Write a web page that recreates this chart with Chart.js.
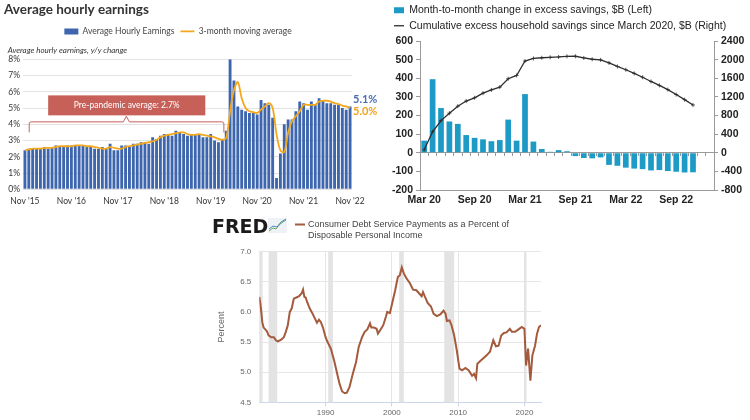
<!DOCTYPE html>
<html>
<head>
<meta charset="utf-8">
<script src="https://cdn.jsdelivr.net/npm/chart.js@4.4.0/dist/chart.umd.min.js"></script>
<style>
html, body { margin: 0; padding: 0; background: #fff; width: 750px; height: 420px; overflow: hidden; }
canvas { position: absolute; }
</style>
</head>
<body>
<canvas id="ahe" width="380" height="210" style="left:0;top:0"></canvas>
<canvas id="savings" width="378" height="210" style="left:372px;top:0"></canvas>
<canvas id="fred" width="350" height="208" style="left:205px;top:212px"></canvas>
<script>
// ---- chart 1: average hourly earnings, Nov '15 .. Nov '22 ----
const aheTickLabels = ["Nov '15", "Nov '16", "Nov '17", "Nov '18", "Nov '19", "Nov '20", "Nov '21", "Nov '22"];
const monthNames = ['Nov', 'Dec', 'Jan', 'Feb', 'Mar', 'Apr', 'May', 'Jun', 'Jul', 'Aug', 'Sep', 'Oct'];
const aheMonths = [];
for (let i = 0; i < 85; i++) {
    const yr = 15 + Math.floor((i + 10) / 12);
    aheMonths.push(monthNames[i % 12] + " '" + yr);
}

const aheYoY = [
    2.4, 2.5, 2.5, 2.5, 2.5, 2.6, 2.5, 2.6, 2.7, 2.6, 2.6, 2.7,
    2.7, 2.7, 2.7, 2.7, 2.6, 2.6, 2.5, 2.5, 2.6, 2.5, 2.8, 2.4,
    2.4, 2.7, 2.7, 2.6, 2.8, 2.8, 2.9, 2.9, 2.8, 3.2, 3.1, 3.3,
    3.4, 3.4, 3.3, 3.6, 3.5, 3.4, 3.3, 3.4, 3.4, 3.4, 3.2, 3.2,
    3.4, 3.0, 2.9, 3.1, 3.6, 8.0, 6.7, 5.1, 4.9, 4.8, 4.7, 4.7,
    4.6, 5.5, 5.3, 5.2, 4.4, 0.7, 2.2, 4.0, 4.3, 4.3, 4.8, 5.4,
    5.3, 4.9, 5.4, 5.2, 5.6, 5.5, 5.3, 5.3, 5.2, 5.2, 5.0, 4.9,
    5.1
];
const aheMovingAvg = [
    2.4, 2.45, 2.5, 2.5, 2.5, 2.55, 2.55, 2.55, 2.6, 2.65, 2.65, 2.65,
    2.65, 2.7, 2.7, 2.7, 2.65, 2.65, 2.6, 2.55, 2.5, 2.5, 2.6, 2.55,
    2.5, 2.5, 2.6, 2.65, 2.7, 2.75, 2.8, 2.85, 2.9, 2.95, 3.05, 3.2,
    3.3, 3.35, 3.4, 3.45, 3.5, 3.5, 3.4, 3.35, 3.35, 3.4, 3.35, 3.3,
    3.25, 3.2, 3.1, 3.05, 3.15, 4.8, 6.1, 6.6, 5.6, 5.0, 4.8, 4.75,
    4.7, 4.9, 5.1, 5.3, 5.0, 3.4, 2.4, 2.3, 3.5, 4.2, 4.5, 4.8,
    5.2, 5.2, 5.2, 5.2, 5.4, 5.45, 5.45, 5.4, 5.3, 5.25, 5.15, 5.1,
    5.0
];

// ---- chart 2: excess savings, Mar 20 .. Jan 23 ----
const savingsMonths = [
    'Mar 20', 'Apr 20', 'May 20', 'Jun 20', 'Jul 20', 'Aug 20', 'Sep 20', 'Oct 20', 'Nov 20', 'Dec 20',
    'Jan 21', 'Feb 21', 'Mar 21', 'Apr 21', 'May 21', 'Jun 21', 'Jul 21', 'Aug 21', 'Sep 21', 'Oct 21', 'Nov 21', 'Dec 21',
    'Jan 22', 'Feb 22', 'Mar 22', 'Apr 22', 'May 22', 'Jun 22', 'Jul 22', 'Aug 22', 'Sep 22', 'Oct 22', 'Nov 22', 'Dec 22',
    'Jan 23'
];
const monthlyChange = [
    65, 395, 240, 168, 155, 95, 80, 72, 62, 68,
    178, 65, 315, 60, 20, 5, 14, 8, -18, -28, -30, -25,
    -65, -70, -80, -85, -88, -95, -93, -98, -102, -106, -105
];
const cumulativeSavings = [
    65, 450, 690, 850, 1000, 1110, 1180, 1280, 1350, 1410,
    1590, 1660, 1970, 2025, 2040, 2050, 2057, 2070, 2072, 2036, 2008, 1994,
    1931, 1853, 1783, 1705, 1621, 1531, 1446, 1356, 1250, 1140, 1025
];

// ---- chart 3: FRED consumer debt service ratio ----
const fredYears = [
    1980.0, 1980.15, 1980.3, 1980.45, 1980.65, 1980.9, 1981.15, 1981.4, 1981.8, 1982.2, 1982.5, 1982.8,
    1983.3, 1983.7, 1984.0, 1984.3, 1984.6, 1984.9, 1985.2, 1985.6, 1986.0, 1986.4, 1986.6, 1986.8,
    1987.0, 1987.2, 1987.6, 1988.0, 1988.4, 1988.7, 1989.0, 1989.3, 1989.6, 1990.0, 1990.3, 1990.8,
    1991.3, 1991.7, 1992.1, 1992.5, 1992.9, 1993.2, 1993.6, 1994.1, 1994.6, 1995.0, 1995.5, 1995.9,
    1996.3, 1996.7, 1996.9, 1997.3, 1997.7, 1997.9, 1998.3, 1998.7, 1999.1, 1999.3, 1999.7, 2000.1,
    2000.5, 2000.9, 2001.2, 2001.5, 2001.8, 2002.2, 2002.7, 2003.2, 2003.7, 2004.1, 2004.5, 2004.7,
    2005.0, 2005.4, 2005.9, 2006.3, 2006.8, 2007.3, 2007.8, 2008.1, 2008.3, 2008.7, 2009.0, 2009.4,
    2009.8, 2010.2, 2010.6, 2011.1, 2011.6, 2012.1, 2012.4, 2012.7, 2012.9, 2013.3, 2013.8, 2014.3,
    2014.8, 2015.3, 2015.7, 2016.1, 2016.5, 2016.9, 2017.3, 2017.8, 2018.1, 2018.6, 2019.1, 2019.6,
    2020.0, 2020.25, 2020.55, 2020.9, 2021.2, 2021.6, 2021.9, 2022.2, 2022.5
];
const fredValues = [
    6.25, 6.14, 6.0, 5.83, 5.74, 5.71, 5.68, 5.61, 5.58, 5.58, 5.53, 5.51,
    5.54, 5.58, 5.67, 5.78, 6.0, 6.06, 6.22, 6.24, 6.26, 6.31, 6.37, 6.25,
    6.24, 6.17, 6.06, 5.98, 5.89, 5.82, 5.87, 5.83, 5.74, 5.58, 5.5, 5.39,
    5.19, 5.0, 4.81, 4.68, 4.65, 4.66, 4.75, 4.97, 5.17, 5.42, 5.58, 5.67,
    5.71, 5.81, 5.74, 5.74, 5.72, 5.64, 5.71, 5.78, 5.92, 6.0, 5.98, 6.17,
    6.36, 6.58, 6.61, 6.74, 6.64, 6.56, 6.48, 6.37, 6.36, 6.31, 6.26, 6.33,
    6.25, 6.15, 6.09, 5.97, 5.93, 5.96, 6.02, 5.97, 5.85, 5.86, 5.78, 5.61,
    5.36, 5.06, 5.03, 5.07, 5.03, 4.94, 4.97, 4.9, 5.14, 5.18, 5.23, 5.28,
    5.34, 5.53, 5.43, 5.44, 5.61, 5.65, 5.66, 5.72, 5.67, 5.67, 5.71, 5.75,
    5.72, 5.11, 5.39, 4.86, 5.28, 5.44, 5.64, 5.75, 5.78
];
const recessions = [
    [1980.0, 1980.5], [1981.4, 1982.7], [1990.4, 1991.1], [2001.1, 2001.8], [2007.9, 2009.4], [2020.0, 2020.3]
];
const fredTicks = [1990, 2000, 2010, 2020];


// annotation + end labels on the earnings chart
const aheExtras = {
    id: 'aheExtras',
    afterDatasetsDraw(chart) {
        const { ctx, scales: { x, y }, chartArea } = chart;
        const step = x.getPixelForValue(1) - x.getPixelForValue(0);
        const xAt = (i) => x.getPixelForValue(0) + i * step;
        const red = '#c8605a';

        // bracket
        const bx0 = xAt(1.1), bx1 = xAt(51.4), bmid = xAt(26.2);
        const by = y.getPixelForValue(4.15), bEnd = y.getPixelForValue(3.5), bTop = y.getPixelForValue(4.5);
        ctx.save();
        ctx.strokeStyle = red;
        ctx.lineWidth = 1;
        ctx.beginPath();
        ctx.moveTo(bx0, bEnd);
        ctx.lineTo(bx0, by + 2);
        ctx.quadraticCurveTo(bx0, by, bx0 + 2, by);
        ctx.lineTo(bmid - 3, by);
        ctx.lineTo(bmid, bTop);
        ctx.lineTo(bmid + 3, by);
        ctx.lineTo(bx1 - 2, by);
        ctx.quadraticCurveTo(bx1, by, bx1, by + 2);
        ctx.lineTo(bx1, bEnd);
        ctx.stroke();

        // box
        const lx = xAt(6), rx = xAt(46.6);
        const ty = y.getPixelForValue(5.78), byy = y.getPixelForValue(4.55);
        ctx.fillStyle = red;
        ctx.fillRect(lx, ty, rx - lx, byy - ty);
        ctx.fillStyle = '#fff';
        ctx.font = '8.5px Lato';
        ctx.textAlign = 'center';
        ctx.textBaseline = 'middle';
        ctx.fillText('Pre-pandemic average: 2.7%', (lx + rx) / 2, (ty + byy) / 2);

        // end labels
        ctx.font = 'bold 11px Lato';
        ctx.textAlign = 'left';
        ctx.fillStyle = '#4a6db5';
        ctx.fillText('5.1%', chartArea.right + 1, y.getPixelForValue(5.5));
        ctx.fillStyle = '#f0a418';
        ctx.fillText('5.0%', chartArea.right + 1, y.getPixelForValue(4.78));
        ctx.restore();
    }
};

new Chart(document.getElementById('ahe'), {
    type: 'bar',
    data: {
        labels: aheMonths,
        datasets: [
            {
                label: 'Average Hourly Earnings',
                data: aheYoY,
                backgroundColor: '#3e66ae',
                barPercentage: 0.74,
                categoryPercentage: 1,
                pointStyle: 'rect',
                order: 2
            },
            {
                type: 'line',
                label: '3-month moving average',
                data: aheMovingAvg,
                borderColor: '#f4a81d',
                backgroundColor: '#f4a81d',
                borderWidth: 1.8,
                pointRadius: 0,
                tension: 0.35,
                pointStyle: 'line',
                order: 1
            }
        ]
    },
    options: {
        responsive: false,
        animation: false,
        layout: { padding: { left: 4, right: 28, top: 0, bottom: 0 } },
        plugins: {
            tooltip: { enabled: false },
            title: {
                display: true,
                text: 'Average hourly earnings',
                align: 'start',
                color: '#333',
                font: { family: 'Lato', size: 13.5, weight: 'bold' },
                padding: { top: 2, bottom: 3 }
            },
            legend: {
                weight: 1800,
                labels: {
                    usePointStyle: true,
                    pointStyleWidth: 14,
                    boxHeight: 6,
                    padding: 6,
                    color: '#444',
                    font: { family: 'Lato', size: 8.5 },
                    sort: (a, b) => a.datasetIndex - b.datasetIndex
                }
            },
            subtitle: {
                display: true,
                text: '  Average hourly earnings, y/y change',
                align: 'start',
                color: '#333',
                font: { family: 'Lato', size: 8, style: 'italic' },
                padding: { top: 0, bottom: 4 }
            }
        },
        scales: {
            x: {
                grid: { display: false, drawTicks: false },
                border: { display: false },
                ticks: {
                    autoSkip: false,
                    maxRotation: 0,
                    color: '#333',
                    font: { family: 'Lato', size: 8.5 },
                    padding: 7,
                    callback: (v, i) => (i % 12 === 0 ? aheTickLabels[i / 12] : '')
                },
                afterFit: (s) => { s.height = 20.7; }
            },
            y: {
                min: 0,
                max: 8,
                ticks: {
                    stepSize: 1,
                    color: '#333',
                    font: { family: 'Lato', size: 8.5 },
                    padding: 3,
                    callback: (v) => v + '%'
                },
                grid: { color: '#e2e2e2', drawTicks: false },
                border: { display: false },
                afterFit: (s) => { s.width = 19; }
            }
        }
    },
    plugins: [aheExtras]
});


// ---- chart 2 ----
const axisFont = { family: 'Liberation Sans', size: 10.5, weight: 'bold' };

new Chart(document.getElementById('savings'), {
    type: 'bar',
    data: {
        labels: savingsMonths,
        datasets: [
            {
                label: 'Month-to-month change in excess savings, $B (Left)',
                data: monthlyChange,
                backgroundColor: '#1d9ac6',
                yAxisID: 'y',
                barPercentage: 0.68,
                categoryPercentage: 1,
                pointStyle: 'rect',
                order: 2
            },
            {
                type: 'line',
                label: 'Cumulative excess household savings since March 2020, $B (Right)',
                data: cumulativeSavings,
                yAxisID: 'y1',
                borderColor: '#2d2d2d',
                backgroundColor: '#2d2d2d',
                borderWidth: 1.3,
                pointStyle: 'cross',
                pointRadius: 2,
                pointBorderWidth: 0.8,
                pointBorderColor: '#2d2d2d',
                tension: 0,
                order: 1
            }
        ]
    },
    options: {
        responsive: false,
        animation: false,
        layout: { padding: { left: 17, right: 0, top: 0, bottom: 0 } },
        plugins: {
            tooltip: { enabled: false },
            legend: {
                align: 'start',
                labels: {
                    usePointStyle: true,
                    pointStyleWidth: 10,
                    boxHeight: 6,
                    padding: 5,
                    color: '#222',
                    font: { family: 'Liberation Sans', size: 10.5 },
                    sort: (a, b) => a.datasetIndex - b.datasetIndex,
                    generateLabels(chart) {
                        const items = Chart.defaults.plugins.legend.labels.generateLabels(chart);
                        items.forEach((it) => { if (it.datasetIndex === 1) { it.pointStyle = 'line'; it.lineWidth = 1.3; } });
                        return items;
                    }
                }
            }
        },
        scales: {
            x: {
                grid: { display: false, drawTicks: false },
                border: { display: true, color: '#9a9a9a' },
                ticks: {
                    autoSkip: false,
                    maxRotation: 0,
                    color: '#222',
                    font: axisFont,
                    padding: 4,
                    callback: (v, i) => (i % 6 === 0 ? savingsMonths[i] : '')
                },
                afterFit: (s) => { s.height = 20; }
            },
            xz: {
                type: 'category',
                position: { y: 0 },
                grid: { drawOnChartArea: false, offset: true, tickLength: 3, color: '#9a9a9a' },
                border: { display: true, color: '#9a9a9a' },
                ticks: { display: false }
            },
            y: {
                position: 'left',
                min: -200,
                max: 600,
                ticks: { stepSize: 100, color: '#222', font: axisFont, padding: 3, callback: (v) => String(v) },
                grid: { drawOnChartArea: false, tickLength: 4, color: '#9a9a9a' },
                border: { display: true, color: '#9a9a9a' },
                afterFit: (s) => { s.width = 31; }
            },
            y1: {
                position: 'right',
                min: -800,
                max: 2400,
                ticks: { stepSize: 400, color: '#222', font: axisFont, padding: 3, callback: (v) => String(v) },
                grid: { drawOnChartArea: false, tickLength: 4, color: '#9a9a9a' },
                border: { display: true, color: '#9a9a9a' },
                afterFit: (s) => { s.width = 36; }
            }
        }
    }
});


// ---- chart 3 ----
const recessionBands = {
    id: 'recessionBands',
    beforeDatasetsDraw(chart) {
        const { ctx, chartArea, scales: { x } } = chart;
        ctx.save();
        ctx.fillStyle = '#e3e3e3';
        for (const [a, b] of recessions) {
            const x0 = Math.max(x.getPixelForValue(a), chartArea.left);
            const x1 = x.getPixelForValue(b);
            ctx.fillRect(x0, chartArea.top, x1 - x0, chartArea.bottom - chartArea.top);
        }
        ctx.restore();
    }
};

const fredHeader = {
    id: 'fredHeader',
    afterDraw(chart) {
        const { ctx } = chart;
        ctx.save();
        ctx.fillStyle = '#1b1b1b';
        ctx.font = 'bold 19px "DejaVu Sans"';
        ctx.textBaseline = 'alphabetic';
        ctx.fillText('FRED', 7, 21);
        // little graph icon
        ctx.fillStyle = '#eef2f6';
        ctx.fillRect(63, 6, 19, 15);
        ctx.lineWidth = 1;
        ctx.strokeStyle = '#6aa84f';
        ctx.beginPath();
        ctx.moveTo(64, 19); ctx.lineTo(68, 16); ctx.lineTo(71, 17); ctx.lineTo(75, 12); ctx.lineTo(81, 8);
        ctx.stroke();
        ctx.strokeStyle = '#4a86c5';
        ctx.beginPath();
        ctx.moveTo(64, 17); ctx.lineTo(68, 14); ctx.lineTo(72, 15); ctx.lineTo(76, 10); ctx.lineTo(81, 7);
        ctx.stroke();
        // legend
        const ds = chart.data.datasets[0];
        ctx.strokeStyle = ds.borderColor;
        ctx.lineWidth = 2;
        ctx.beginPath();
        ctx.moveTo(90, 12.5); ctx.lineTo(100, 12.5);
        ctx.stroke();
        ctx.fillStyle = '#444';
        ctx.font = '9px "Liberation Sans"';
        ctx.textBaseline = 'middle';
        ctx.fillText('Consumer Debt Service Payments as a Percent of', 103, 12.5);
        ctx.fillText('Disposable Personal Income', 103, 23.5);
        ctx.restore();
    }
};

new Chart(document.getElementById('fred'), {
    type: 'line',
    data: {
        datasets: [{
            label: 'Consumer Debt Service Payments as a Percent of Disposable Personal Income',
            data: fredYears.map((yr, i) => ({ x: yr, y: fredValues[i] })),
            borderColor: '#a45a3c',
            borderWidth: 2,
            pointRadius: 0,
            tension: 0
        }]
    },
    options: {
        responsive: false,
        animation: false,
        layout: { padding: { left: 0, right: 14, top: 39.7, bottom: 0 } },
        plugins: { legend: { display: false }, tooltip: { enabled: false } },
        scales: {
            x: {
                type: 'linear',
                min: 1980,
                max: 2022.5,
                afterBuildTicks: (s) => { s.ticks = fredTicks.map((v) => ({ value: v })); },
                ticks: { color: '#666', font: { family: 'Liberation Sans', size: 8 }, padding: 2, callback: (v) => String(v) },
                grid: { color: '#e6e6e6', tickLength: 4, tickColor: '#ccd6eb' },
                border: { display: true, color: '#ccd6eb' },
                afterFit: (s) => { s.height = 17.7; }
            },
            y: {
                min: 4.5,
                max: 7.0,
                ticks: { stepSize: 0.5, color: '#666', font: { family: 'Liberation Sans', size: 8 }, padding: 8, callback: (v) => v.toFixed(1) },
                title: { display: true, text: 'Percent', color: '#666', font: { family: 'Liberation Sans', size: 9 }, padding: { top: 11, bottom: 0 } },
                grid: { color: '#e6e6e6', drawTicks: false },
                border: { display: false },
                afterFit: (s) => { s.width = 54.3; }
            }
        }
    },
    plugins: [recessionBands, fredHeader]
});
</script>
</body>
</html>
